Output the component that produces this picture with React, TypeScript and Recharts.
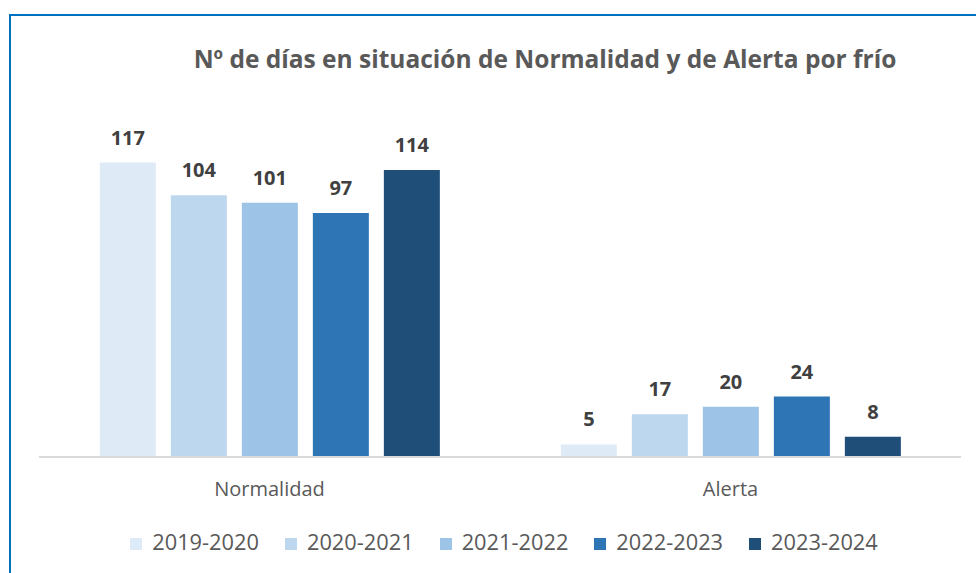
import React from 'react';
import { BarChart, Bar, XAxis, YAxis, Legend, LabelList } from 'recharts';

const categories = ['Normalidad', 'Alerta'];
const seasons = ['2019-2020', '2020-2021', '2021-2022', '2022-2023', '2023-2024'];
const normalidad = [117, 104, 101, 97, 114];
const alerta = [5, 17, 20, 24, 8];
const COLORS = ['#DEEBF7', '#BDD7EE', '#9DC3E6', '#2E75B6', '#1F4E79'];

const data = categories.map((category, i) => {
  const values = i === 0 ? normalidad : alerta;
  const row: Record<string, string | number> = { category };
  seasons.forEach((s, j) => {
    row[s] = values[j];
  });
  return row;
});

const FONT = '"Open Sans", sans-serif';

const App: React.FC = () => {
  return (
    <div style={{ position: 'absolute', left: 0, top: 0, width: 976, height: 573, overflow: 'hidden', background: '#fff', fontFamily: FONT }}>
      <div style={{ position: 'absolute', left: 9, top: 14, width: 1000, height: 600, borderTop: '2px solid #0070C0', borderLeft: '2px solid #0070C0' }} />
      <div style={{ position: 'absolute', left: 0, width: 1090, top: 42, textAlign: 'center', fontSize: 24.5, fontWeight: 700, color: '#595959' }}>
        Nº de días en situación de Normalidad y de Alerta por frío
      </div>
      <div style={{ position: 'absolute', left: 0, top: 0 }}>
        <BarChart
          width={976}
          height={573}
          data={data}
          margin={{ top: 155, right: 15, left: 39, bottom: 57 }}
          barCategoryGap="13.2%"
          barGap={15}
        >
          <XAxis
            dataKey="category"
            tickLine={false}
            axisLine={{ stroke: '#D9D9D9', strokeWidth: 2 }}
            tick={{ fontSize: 20, fill: '#595959', fontFamily: FONT }}
            tickMargin={19}
            height={30}
          />
          <YAxis hide domain={[0, 120]} />
          <Legend
            iconType="square"
            iconSize={12}
            verticalAlign="bottom"
            wrapperStyle={{ top: 527, left: 56, width: 922, fontSize: 21.8, fontFamily: FONT }}
            formatter={(value) => <span style={{ color: '#595959', marginLeft: 6, marginRight: 16 }}>{value}</span>}
          />
          {seasons.map((s, i) => (
            <Bar key={s} dataKey={s} fill={COLORS[i]} isAnimationActive={false}>
              <LabelList dataKey={s} position="top" offset={18} style={{ fill: '#404040', fontSize: 20, fontWeight: 700, fontFamily: FONT }} />
            </Bar>
          ))}
        </BarChart>
      </div>
    </div>
  );
};

export default App;
